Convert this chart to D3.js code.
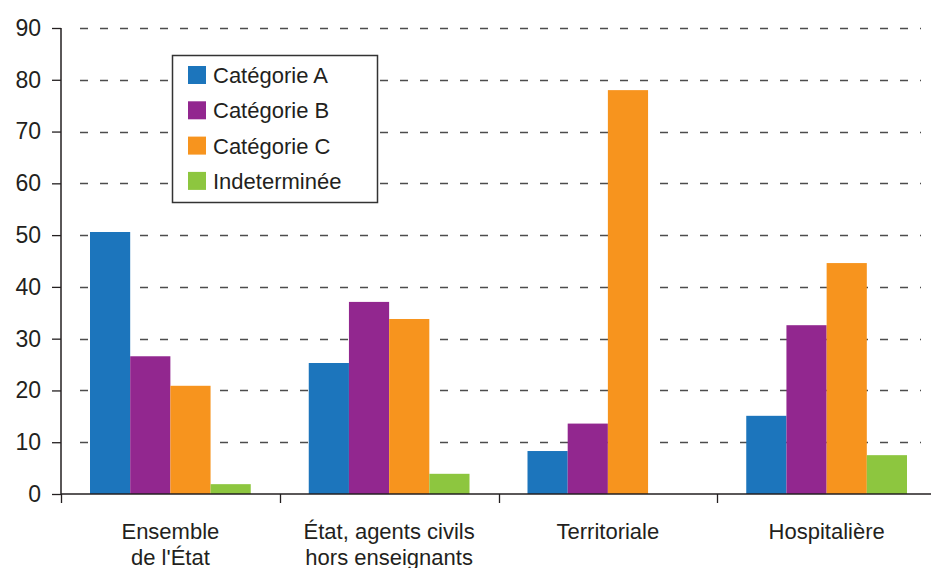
<!DOCTYPE html>
<html>
<head>
<meta charset="utf-8">
<script src="https://cdn.jsdelivr.net/npm/d3@7"></script>
<style>
  body { margin: 0; background: #fff; }
  text { font-family: "Liberation Sans", Arial, sans-serif; fill: #231f20; }
</style>
</head>
<body>
<div class="chart"></div>
<script>
// data
var groups = ["Ensemble\nde l'État", "État, agents civils\nhors enseignants", "Territoriale", "Hospitalière"];
var seriesNames = ["Catégorie A", "Catégorie B", "Catégorie C", "Indeterminée"];
var seriesColors = ["#1c75bc", "#92278f", "#f7941e", "#8dc63f"];
var catA = [50.6, 25.3, 8.3, 15.1];
var catB = [26.6, 37.1, 13.6, 32.6];
var catC = [20.9, 33.8, 78.0, 44.6];
var indet = [1.9, 3.9, 0, 7.5];
var yTicks = [0, 10, 20, 30, 40, 50, 60, 70, 80, 90];

var svgWidth = 931;
var svgHeight = 568;
var margin = { top: 28, right: -5, bottom: 74, left: 61 };
var width = svgWidth - margin.left - margin.right;
var height = svgHeight - margin.top - margin.bottom;

var svg = d3.select(".chart")
    .append("svg")
    .attr("width", svgWidth)
    .attr("height", svgHeight);

var chartGroup = svg.append("g")
    .attr("transform", `translate(${margin.left},${margin.top})`);

var allSeries = [catA, catB, catC, indet];

// scales
var x0 = d3.scaleBand()
    .domain(groups)
    .range([0, width])
    .paddingInner(0)
    .paddingOuter(0);

var x1 = d3.scaleBand()
    .domain(d3.range(seriesNames.length))
    .range([29, x0.bandwidth() - 29])
    .padding(0);

var y = d3.scaleLinear()
    .domain([0, 90])
    .range([height, 0]);

// dashed grid lines
chartGroup.append("g")
    .selectAll("line")
    .data(yTicks.filter(d => d > 0))
    .enter()
    .append("line")
    .attr("x1", 19)
    .attr("x2", 860)
    .attr("y1", d => Math.round(y(d)) + 0.5)
    .attr("y2", d => Math.round(y(d)) + 0.5)
    .attr("stroke", "#4d4d4d")
    .attr("stroke-width", 1.3)
    .attr("stroke-dasharray", "8,12");

// bars
var barGroups = chartGroup.selectAll(".grp")
    .data(groups)
    .enter()
    .append("g")
    .attr("transform", d => `translate(${x0(d)},0)`);

barGroups.selectAll("rect")
    .data((g, gi) => allSeries.map((s, si) => ({ si: si, v: s[gi] })))
    .enter()
    .append("rect")
    .attr("x", d => x1(d.si))
    .attr("width", x1.bandwidth())
    .attr("y", d => y(d.v))
    .attr("height", d => height - y(d.v))
    .attr("fill", d => seriesColors[d.si]);

// y axis
var leftAxis = d3.axisLeft(y).tickValues(yTicks).tickSize(9).tickPadding(11);
var yAxisG = chartGroup.append("g").call(leftAxis);
yAxisG.select(".domain").attr("stroke", "#231f20").attr("stroke-width", 1.5).attr("d", `M0,${height}V0`);
yAxisG.selectAll(".tick line").attr("stroke", "#231f20").attr("stroke-width", 1.3).attr("x2", -9).attr("x1", 0);
yAxisG.selectAll(".tick text")
    .style("font-family", "Liberation Sans, Arial, sans-serif")
    .style("font-size", "23px")
    .attr("fill", "#231f20");

// x axis
var bottomAxis = d3.axisBottom(x0).tickSize(0).tickFormat("");
var xAxisG = chartGroup.append("g")
    .attr("transform", `translate(0,${height})`)
    .call(bottomAxis);
xAxisG.select(".domain").attr("stroke", "#231f20").attr("stroke-width", 1.5).attr("d", `M0,0H${width}`);

// boundary ticks between groups
chartGroup.append("g")
    .selectAll("line")
    .data(groups)
    .enter()
    .append("line")
    .attr("x1", d => Math.round(x0(d)) + 0.5)
    .attr("x2", d => Math.round(x0(d)) + 0.5)
    .attr("y1", height)
    .attr("y2", height + 9)
    .attr("stroke", "#231f20")
    .attr("stroke-width", 1.3);

// group labels
var labels = chartGroup.append("g")
    .selectAll("text")
    .data(groups)
    .enter()
    .append("text")
    .attr("text-anchor", "middle")
    .attr("transform", d => `translate(${x0(d) + x0.bandwidth() / 2},${height + 45})`)
    .style("font-size", "22px");

labels.selectAll("tspan")
    .data(d => d.split("\n"))
    .enter()
    .append("tspan")
    .attr("x", 0)
    .attr("dy", (d, i) => i === 0 ? 0 : 26)
    .text(d => d);

// legend
var legend = svg.append("g").attr("transform", "translate(172,55)");
legend.append("rect")
    .attr("x", 0.5)
    .attr("y", 0.5)
    .attr("width", 205)
    .attr("height", 147)
    .attr("fill", "#fff")
    .attr("stroke", "#333")
    .attr("stroke-width", 1.5);

var items = legend.selectAll(".item")
    .data(seriesNames)
    .enter()
    .append("g")
    .attr("transform", (d, i) => `translate(16,${20 + i * 35.3})`);

items.append("rect")
    .attr("x", 0)
    .attr("y", -9)
    .attr("width", 18)
    .attr("height", 18)
    .attr("fill", (d, i) => seriesColors[i]);

items.append("text")
    .attr("x", 25)
    .attr("y", 8)
    .style("font-size", "22px")
    .text(d => d);
</script>
</body>
</html>
